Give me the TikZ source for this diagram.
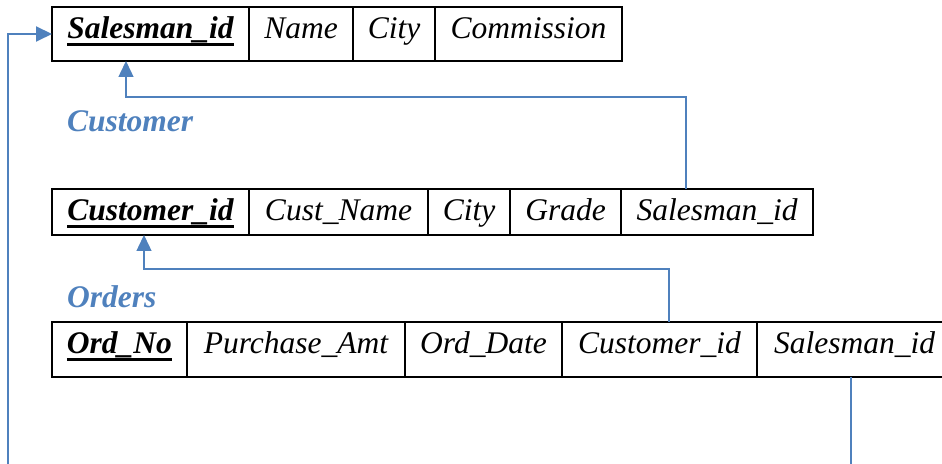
\documentclass[tikz,border=0pt]{standalone}
\usepackage{fontspec}
\setmainfont{Liberation Serif}
\usetikzlibrary{positioning,arrows.meta}
\definecolor{linkblue}{HTML}{4F81BD}
\newcommand{\pkey}[1]{\setbox0\hbox{\bfseries #1}\rlap{\rule[-7pt]{\wd0}{3pt}}\box0}
\tikzset{
% Table cells, the table names and the links between keys
field node/.style={rectangle,draw,line width=1.8pt,outer sep=0pt,inner xsep=0pt,inner ysep=0pt,text height=32pt,font=\fontsize{31.5}{36}\selectfont\itshape},
table label/.style={inner sep=0pt,text=linkblue,font=\fontsize{31.5}{36}\selectfont\bfseries\itshape},
link line/.style={draw=linkblue,line width=1.4pt,-{Triangle[length=16pt,width=15pt]}},
plain link/.style={draw=linkblue,line width=1.4pt}
}
\begin{document}
\begin{tikzpicture}[x=1pt,y=1pt]
  \clip (0,0) rectangle (942,463);
  % Salesman
  \begin{scope}[every node/.append style={text depth=22pt}]
    \node[field node,anchor=north west,minimum width=197pt] (sal1) at (52,456) {\pkey{Salesman\_id}};
    \node[field node,right=0pt of sal1,minimum width=104pt] (sal2) {Name};
    \node[field node,right=0pt of sal2,minimum width=82pt] (sal3) {City};
    \node[field node,right=0pt of sal3,minimum width=187pt] (sal4) {Commission};
  \end{scope}
  \node[table label,anchor=base west] (custlabel) at (67,331) {Customer};
  % Customer
  \begin{scope}[every node/.append style={text depth=14pt}]
    \node[field node,anchor=north west,minimum width=197pt] (cus1) at (52,274) {\pkey{Customer\_id}};
    \node[field node,right=0pt of cus1,minimum width=179pt] (cus2) {Cust\_Name};
    \node[field node,right=0pt of cus2,minimum width=82pt] (cus3) {City};
    \node[field node,right=0pt of cus3,minimum width=111pt] (cus4) {Grade};
    \node[field node,right=0pt of cus4,minimum width=192pt] (cus5) {Salesman\_id};
  \end{scope}
  \node[table label,anchor=base west] (ordlabel) at (67,155) {Orders};
  % Orders
  \begin{scope}[every node/.append style={text depth=23pt}]
    \node[field node,anchor=north west,minimum width=135pt] (ord1) at (52,141) {\pkey{Ord\_No}};
    \node[field node,right=0pt of ord1,minimum width=218pt] (ord2) {Purchase\_Amt};
    \node[field node,right=0pt of ord2,minimum width=157pt] (ord3) {Ord\_Date};
    \node[field node,right=0pt of ord3,minimum width=195pt] (ord4) {Customer\_id};
    \node[field node,right=0pt of ord4,minimum width=195pt] (ord5) {Salesman\_id};
  \end{scope}
  % links
  \coordinate (leftend) at (8,-5);
  \coordinate (rightend) at (851,-5);
  \draw[link line] ([xshift=65pt]cus5.north west) -- ++(0,92) -| ([xshift=74pt]sal1.south west);
  \draw[link line] ([xshift=107pt]ord4.north west) -- ++(0,53) -| ([xshift=92pt]cus1.south west);
  \draw[link line,line width=2pt] (leftend) |- (sal1.west);
  \draw[plain link] (ord5.south -| rightend) -- (rightend);
\end{tikzpicture}
\end{document}
